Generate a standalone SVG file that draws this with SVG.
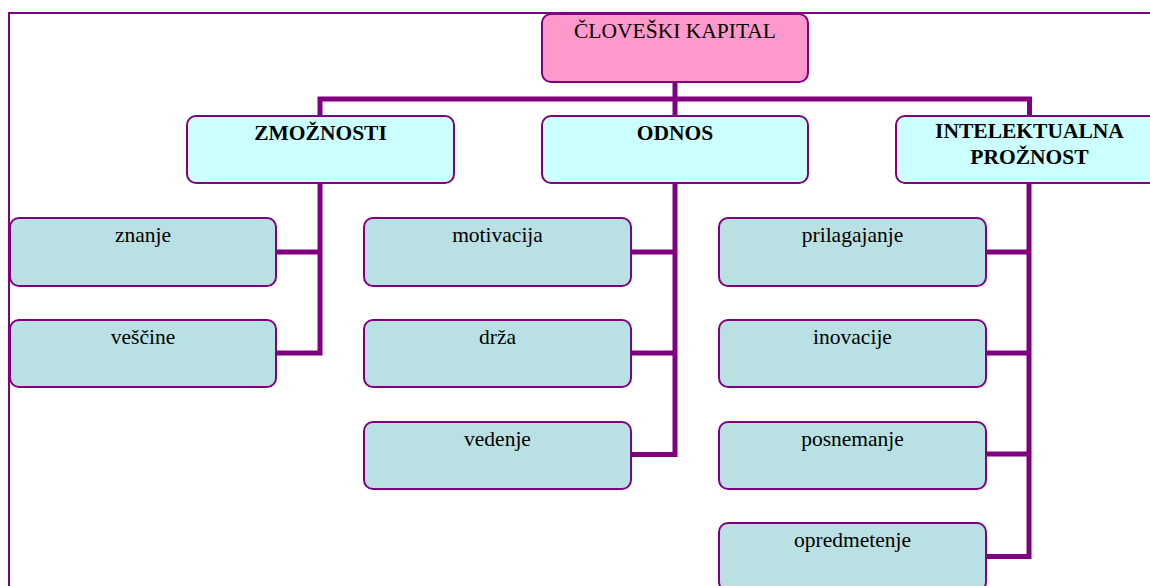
<svg xmlns="http://www.w3.org/2000/svg" width="1150" height="586" viewBox="0 0 1150 586">
<style>
.frame{fill:none;stroke:#800080;stroke-width:2}
.conn{fill:none;stroke:#800080;stroke-width:5;stroke-linejoin:miter}
.box{stroke:#800080;stroke-width:2}
.root{fill:#FF99CC}
.l2{fill:#CCFFFF}
.l3{fill:#B9E0E3}
text{font-family:'Liberation Serif','Times New Roman',serif;font-size:21.5px;fill:#000;text-anchor:middle}
.b{font-weight:bold}
</style>
<rect x="0" y="0" width="1150" height="586" fill="#fff"/>
<path class="frame" d="M9,586 V13 H1150"/>
<g id="connectors">
<path class="conn" d="M675,82 V116"/>
<path class="conn" d="M320,116 V99 H1029.5 V116"/>
<path class="conn" d="M276,252 H320 V353 H276 M320,183 V253"/>
<path class="conn" d="M675,183 V454.5 H631 M631,252 H675 M631,353 H675"/>
<path class="conn" d="M1029,183 V556.5 H986 M986,252 H1029 M986,353 H1029 M986,454 H1029"/>
</g>
<g id="root"><rect class="box root" x="542" y="14" width="266" height="68" rx="9"/><text x="675" y="38">ČLOVEŠKI KAPITAL</text></g>
<g id="zmoznosti"><rect class="box l2" x="187" y="116" width="267" height="67" rx="9"/><text class="b" x="320.5" y="140">ZMOŽNOSTI</text></g>
<g id="odnos"><rect class="box l2" x="542" y="116" width="266" height="67" rx="9"/><text class="b" x="675" y="140">ODNOS</text></g>
<g id="intelektualna"><rect class="box l2" x="896" y="116" width="267" height="67" rx="9"/><text class="b" x="1029.5" y="138">INTELEKTUALNA</text><text class="b" x="1029.5" y="164">PROŽNOST</text></g>
<g id="znanje"><rect class="box l3" x="10" y="218" width="266" height="68" rx="9"/><text x="143" y="242">znanje</text></g>
<g id="vescine"><rect class="box l3" x="10" y="320" width="266" height="67" rx="9"/><text x="143" y="344">veščine</text></g>
<g id="motivacija"><rect class="box l3" x="364" y="218" width="267" height="68" rx="9"/><text x="497.5" y="242">motivacija</text></g>
<g id="drza"><rect class="box l3" x="364" y="320" width="267" height="67" rx="9"/><text x="497.5" y="344">drža</text></g>
<g id="vedenje"><rect class="box l3" x="364" y="422" width="267" height="67" rx="9"/><text x="497.5" y="446">vedenje</text></g>
<g id="prilagajanje"><rect class="box l3" x="719" y="218" width="267" height="68" rx="9"/><text x="852.5" y="242">prilagajanje</text></g>
<g id="inovacije"><rect class="box l3" x="719" y="320" width="267" height="67" rx="9"/><text x="852.5" y="344">inovacije</text></g>
<g id="posnemanje"><rect class="box l3" x="719" y="422" width="267" height="67" rx="9"/><text x="852.5" y="446">posnemanje</text></g>
<g id="opredmetenje"><rect class="box l3" x="719" y="523" width="267" height="68" rx="9"/><text x="852.5" y="547">opredmetenje</text></g>
</svg>
